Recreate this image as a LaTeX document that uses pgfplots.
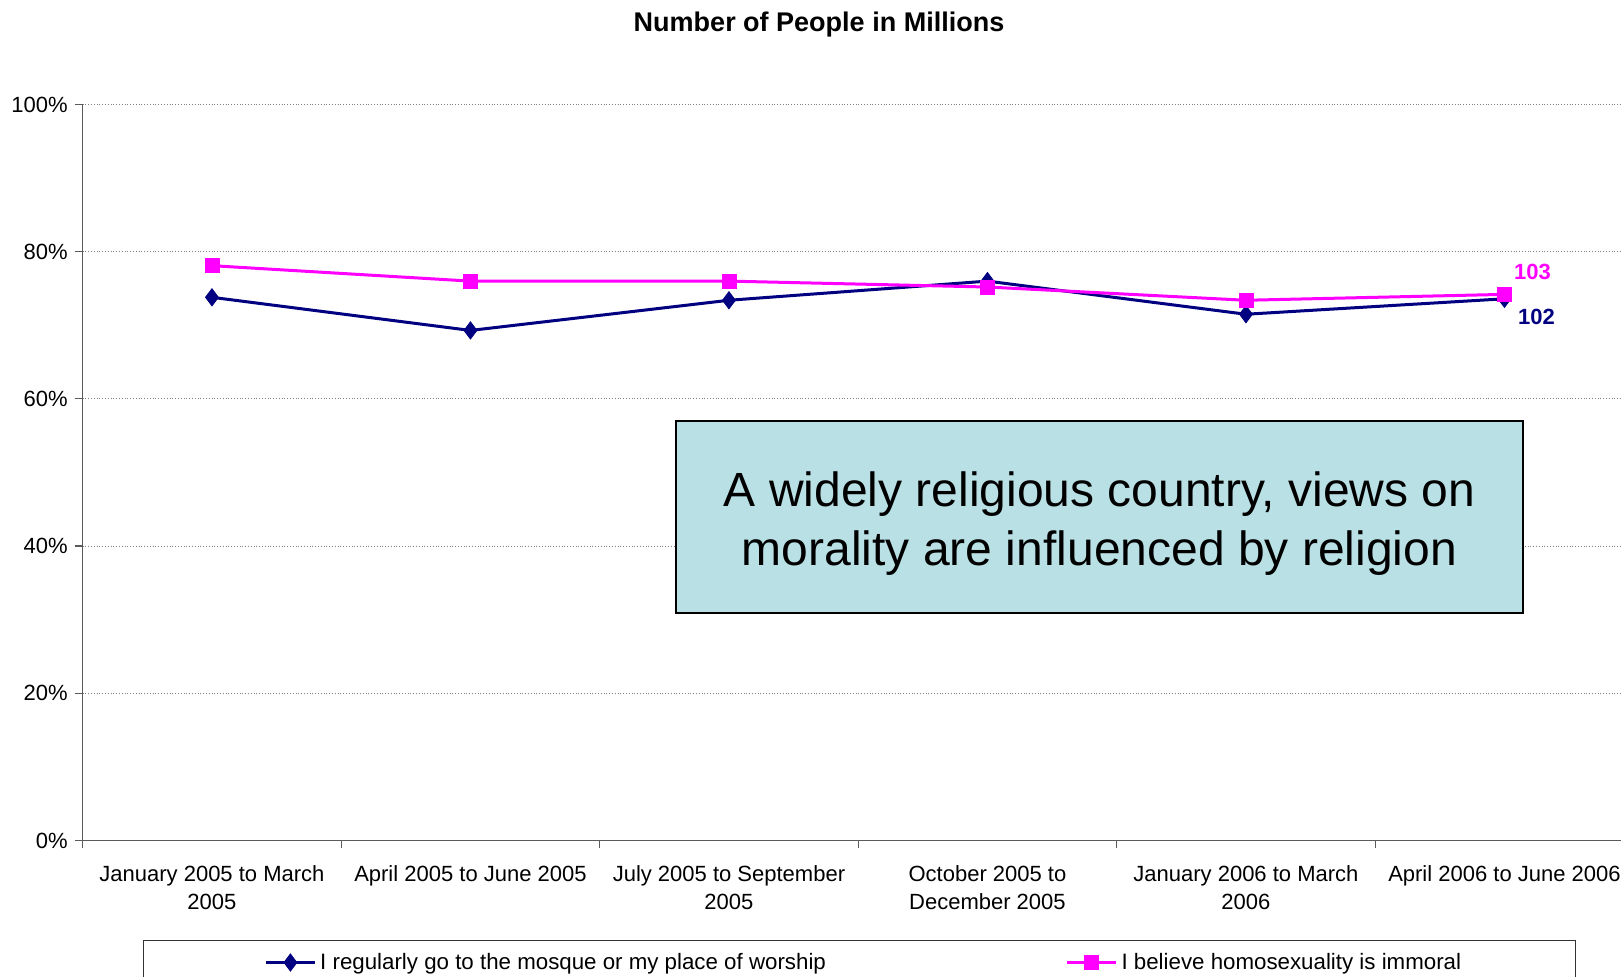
\documentclass[border=0pt]{standalone}
\usepackage{fontspec}
\setmainfont{Liberation Sans}
\usepackage{pgfplots}
\pgfplotsset{compat=1.18}

\definecolor{worship}{RGB}{0,0,128}
\definecolor{immoral}{RGB}{255,0,255}
\definecolor{notefill}{RGB}{185,224,228}
\definecolor{axisgray}{RGB}{90,90,90}

\begin{document}
\begin{tikzpicture}[x=1pt,y=1pt]
\begin{axis}[
  at={(0,0)}, anchor=south west,
  scale only axis, width=775.5pt, height=368pt,
  xmin=-0.5, xmax=5.5, ymin=0, ymax=100,
  axis lines*=left,
  axis line style={axisgray, line width=0.8pt},
  tick align=outside,
  major tick length=4pt,
  tick style={axisgray, line width=0.6pt},
  xtick={-0.5,0.5,...,5.5},
  x tick label as interval,
  xticklabels={{January 2005 to March\\2005},
               {April 2005 to June 2005},
               {July 2005 to September\\2005},
               {October 2005 to\\December 2005},
               {January 2006 to March\\2006},
               {April 2006 to June 2006}},
  xticklabel style={align=center, font=\fontsize{11}{14}\selectfont, yshift=-5pt},
  ytick={0,20,...,100},
  yticklabels={0\%,20\%,40\%,60\%,80\%,100\%},
  yticklabel style={font=\fontsize{11}{13}\selectfont},
  ymajorgrids,
  grid style={densely dotted, gray, line width=0.5pt},
  legend columns=2,
  legend style={draw=none, fill=none, at={(0.1173,-0.1658)}, anchor=west,
    font=\fontsize{11.15}{13}\selectfont, inner sep=0pt, outer sep=0pt,
    nodes={inner sep=0pt},
    /tikz/every odd column/.append style={column sep=2pt},
    /tikz/every even column/.append style={column sep=120pt}},
  legend image code/.code={\draw[mark repeat=2,mark phase=2,#1]
    plot coordinates {(0pt,0pt) (12.15pt,0pt) (24.3pt,0pt)};},
]
\addplot[worship, line width=1.5pt, mark=diamond*, mark size=4.3pt,
  mark options={solid, line width=0.4pt}]
  coordinates {(0,73.8) (1,69.3) (2,73.4) (3,76.0) (4,71.5) (5,73.6)};
\addlegendentry{I regularly go to the mosque or my place of worship}
\addplot[immoral, line width=1.5pt, mark=square*, mark size=3.5pt,
  mark options={solid, line width=0.4pt}]
  coordinates {(0,78.1) (1,76.0) (2,76.0) (3,75.2) (4,73.4) (5,74.2)};
\addlegendentry{I believe homosexuality is immoral}
\end{axis}

% chart title
\node[font=\bfseries\fontsize{13.5}{16}\selectfont] at (368.15,407.9) {Number of People in Millions};

% end-of-series labels
\node[immoral, font=\bfseries\fontsize{11}{13}\selectfont] at (724.9,284.1) {103};
\node[worship, font=\bfseries\fontsize{11}{13}\selectfont] at (726.9,261.9) {102};

% annotation box
\draw[black, line width=0.8pt, fill=notefill] (296.65,113.75) rectangle (720.15,209.85);
\node[align=center, inner sep=0pt, font=\fontsize{24}{29.5}\selectfont] at (508.4,158.2)
  {A widely religious country, views on\\ morality are influenced by religion};

% legend frame
\draw[black!80, line width=0.6pt] (30.5,-50.15) rectangle (746.4,-90);

\pgfresetboundingbox
\path (-41.35,-68.25) rectangle (769.15,420.25);
\end{tikzpicture}
\end{document}
